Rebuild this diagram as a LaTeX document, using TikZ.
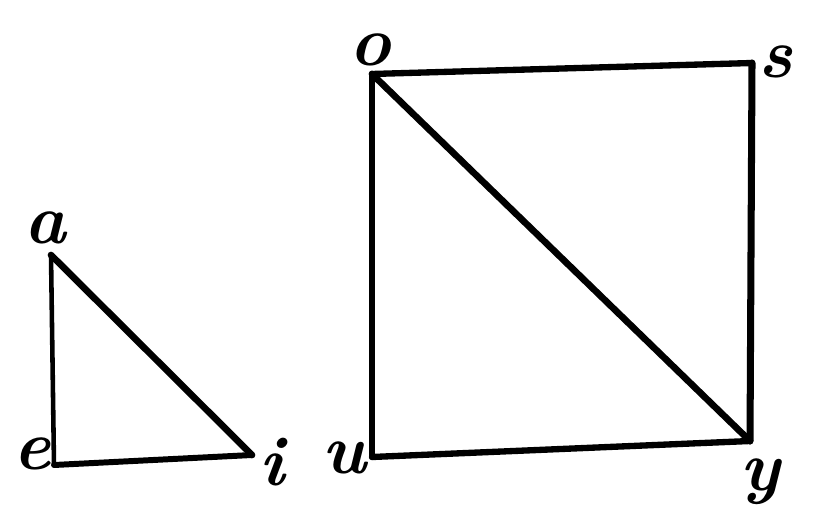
\documentclass[tikz,border=0pt]{standalone}
\begin{document}
\begin{tikzpicture}[x=0.02cm,y=-0.02cm,
  lbl/.style={font=\fontsize{40}{40}\selectfont\bfseries\itshape, inner sep=0pt},
  edge/.style={line width=3.6pt, line cap=round, line join=round}]
\useasboundingbox (0,0) rectangle (827,530);
% vertices
\coordinate (A) at (51,255);
\coordinate (E) at (54,465);
\coordinate (I) at (252,455);
\coordinate (O) at (372,74);
\coordinate (S) at (752,63);
\coordinate (U) at (372,457);
\coordinate (Y) at (750,441);
% labels
\node[lbl] (la) at (45,228) {a};
\node[lbl] (le) at (32,454) {e};
\node[lbl] (li) at (272,462) {i};
\node[lbl] (lo) at (370,50) {o};
\node[lbl] (ls) at (776,62) {s};
\node[lbl] (lu) at (344,458) {u};
\node[lbl] (ly) at (760,482) {y};
% triangle
\draw[edge, line width=2.6pt] (A) -- (E);
\draw[edge, line width=3.4pt] (E) -- (I);
\draw[edge, line width=3.8pt] (A) -- (I);
% square
\draw[edge] (O) -- (S);
\draw[edge, line width=4pt] (S) -- (Y);
\draw[edge] (O) -- (U);
\draw[edge] (U) -- (Y);
\draw[edge, line width=3.8pt] (O) -- (Y);
\end{tikzpicture}
\end{document}
